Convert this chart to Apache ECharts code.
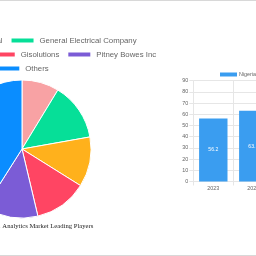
<!DOCTYPE html>
<html><head><meta charset="utf-8">
<script src="https://cdn.jsdelivr.net/npm/echarts@6/dist/echarts.min.js"></script>
<style>
html,body{margin:0;padding:0;width:256px;height:256px;overflow:hidden;background:#fff;position:relative}
#pie{position:absolute;left:-234px;top:0;width:512px;height:256px}
#bar{position:absolute;left:0;top:0;width:400px;height:256px}
.rule{position:absolute;left:0;width:256px;height:1px;background:#d8d8d8}
</style></head><body>
<div id="bar"></div>
<div id="pie"></div>
<div class="rule" style="top:0"></div>
<div class="rule" style="top:255px"></div>
<script>
// ---- data ----
const playerNames = ['Trimble Geospatial', 'General Electrical Company', 'Oracle Corporation', 'Gisolutions', 'Pitney Bowes Inc', 'Others'];
const playerShares = [8.7, 13.5, 11.7, 12.4, 12.7, 41.0];
const playerColors = ['#f8a2a4', '#06df98', '#ffb11c', '#ff4563', '#7b5cd6', '#0a8dff'];
const legendRow1 = ['Trimble Geospatial', 'General Electrical Company'];
const legendRow2 = ['Oracle Corporation', 'Gisolutions', 'Pitney Bowes Inc'];
const legendRow3 = ['Others'];
const pieTitle = 'Nigeria Geospatial Analytics Market Leading Players';

const years = ['2023', '2024'];
const marketSize = [56.2, 63.1];
const barSeriesName = 'Nigeria Geospatial Analytics Market Size';
const yMin = 0, yMax = 90, yStep = 10;

// ---- pie chart ----
const pie = echarts.init(document.getElementById('pie'), null, {renderer: 'canvas'});
const legendBase = {
  left: 'center', orient: 'horizontal', icon: 'rect', itemWidth: 24, itemHeight: 6, itemGap: 7, padding: 0,
  textStyle: {fontSize: 7.8, color: '#666', fontFamily: 'Liberation Sans, Arial, sans-serif'}
};
pie.setOption({
  animation: false,
  title: {
    text: pieTitle, left: 'center', top: 223, padding: 0,
    textStyle: {fontFamily: 'Liberation Serif, Times New Roman, serif', fontSize: 6.65, fontWeight: 'normal', color: '#222'}
  },
  legend: [
    Object.assign({}, legendBase, {data: legendRow1, top: 36.6}),
    Object.assign({}, legendBase, {data: legendRow2, top: 50.6}),
    Object.assign({}, legendBase, {data: legendRow3, top: 64.4})
  ],
  series: [{
    type: 'pie', center: ['50%', 149], radius: 69, startAngle: 90, clockwise: true,
    label: {show: false}, labelLine: {show: false},
    itemStyle: {borderColor: '#fff', borderWidth: 1},
    data: playerNames.map((n, i) => ({name: n, value: playerShares[i], itemStyle: {color: playerColors[i]}}))
  }]
});

// ---- bar chart ----
const bar = echarts.init(document.getElementById('bar'), null, {renderer: 'canvas'});
const gridLine = '#e6e6e6';
bar.setOption({
  animation: false,
  legend: {
    data: [barSeriesName], left: 220, top: 72, padding: 0, icon: 'rect', itemWidth: 17, itemHeight: 4,
    textStyle: {fontSize: 5.4, color: '#666', fontFamily: 'Liberation Sans, Arial, sans-serif', padding: [0, 0, 0, -3]}
  },
  grid: {left: 193.3, top: 80.7, width: 80, height: 100.8, containLabel: false, outerBoundsMode: 'none'},
  xAxis: {
    type: 'category', data: years,
    axisLine: {show: true, lineStyle: {color: gridLine}},
    axisTick: {show: true, length: 4, alignWithLabel: false, lineStyle: {color: gridLine}},
    splitLine: {show: true, interval: 0, lineStyle: {color: gridLine}},
    axisLabel: {fontSize: 5.4, color: '#666', margin: 5, fontFamily: 'Liberation Sans, Arial, sans-serif'}
  },
  yAxis: {
    type: 'value', min: yMin, max: yMax, interval: yStep,
    axisLine: {show: true, lineStyle: {color: gridLine}},
    axisTick: {show: true, length: 4, lineStyle: {color: gridLine}},
    splitLine: {show: true, lineStyle: {color: gridLine}},
    axisLabel: {fontSize: 5.4, color: '#666', margin: 5, fontFamily: 'Liberation Sans, Arial, sans-serif'}
  },
  series: [{
    name: barSeriesName, type: 'bar', data: marketSize, barWidth: '71%',
    itemStyle: {color: '#3a9df0'},
    label: {show: true, position: 'inside', color: '#fff', fontSize: 5.1, fontFamily: 'Liberation Sans, Arial, sans-serif'}
  }]
});
</script>
</body></html>
